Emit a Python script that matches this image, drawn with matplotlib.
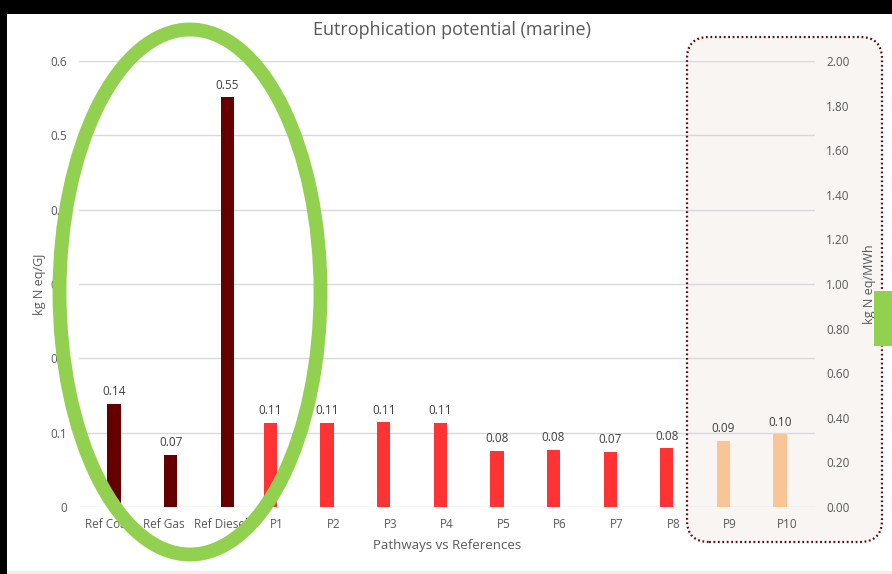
import matplotlib
matplotlib.use("Agg")
import matplotlib.pyplot as plt
from matplotlib.patches import Rectangle, Ellipse, FancyBboxPatch
from matplotlib.ticker import FixedLocator, FuncFormatter
import numpy as np

plt.rcParams['font.family'] = ['Open Sans', 'DejaVu Sans']

# Data
ref_labels = ["Ref Coal", "Ref Gas", "Ref Diesel"]
ref_values = [0.139, 0.070, 0.551]
path_labels = ["P1", "P2", "P3", "P4", "P5", "P6", "P7", "P8"]
path_values = [0.113, 0.113, 0.114, 0.113, 0.076, 0.077, 0.074, 0.079]
alt_labels = ["P9", "P10"]
alt_values = [0.089, 0.098]
categories = ref_labels + path_labels + alt_labels

left_ticks = [0, 0.1, 0.2, 0.3, 0.4, 0.5, 0.6]
right_ticks = [0.0, 0.2, 0.4, 0.6, 0.8, 1.0, 1.2, 1.4, 1.6, 1.8, 2.0]

c_ref = "#650000"
c_path = "#FF3333"
c_alt = "#F8C597"
grey = "#595959"
green = "#92D050"

W, H, DPI = 892, 574, 100
fig = plt.figure(figsize=(W / DPI, H / DPI), dpi=DPI, facecolor="black")

# white canvas inside the dark frame
fig.patches.append(Rectangle((7 / W, 3 / H), 1 - 7 / W, (H - 14 - 3) / H,
                             transform=fig.transFigure, facecolor="white",
                             edgecolor="none", zorder=-3))
fig.patches.append(Rectangle((7 / W, 0), 1 - 7 / W, 3 / H,
                             transform=fig.transFigure, facecolor="#EFEFEF",
                             edgecolor="none", zorder=-3))

# shaded highlight box behind P9/P10
box_kw = dict(boxstyle="round,pad=0,rounding_size=0.22", transform=fig.dpi_scale_trans)
x0, x1 = 687 / DPI, 882 / DPI
y0, y1 = (H - 542) / DPI, (H - 37) / DPI
fig.patches.append(FancyBboxPatch((x0, y0), x1 - x0, y1 - y0, facecolor="#F8F5F2",
                                  edgecolor="none", zorder=-2, **box_kw))
fig.patches.append(FancyBboxPatch((x0, y0), x1 - x0, y1 - y0, facecolor="none",
                                  edgecolor="#5C0A14", linewidth=1.6,
                                  linestyle=(0, (0.8, 1.2)), zorder=3, **box_kw))

ax = fig.add_axes([79 / W, (H - 507) / H, (815 - 79) / W, (507 - 61) / H])
ax.set_facecolor("none")

x = np.arange(len(categories))
bw = 0.235
off = 0.118
xr = x[:len(ref_labels)]
xp = x[len(ref_labels):len(ref_labels) + len(path_labels)]
xa = x[len(ref_labels) + len(path_labels):]

bars = []
bars.append((ax.bar(xr + off, ref_values, bw, color=c_ref, zorder=3), ref_values))
bars.append((ax.bar(xp - off, path_values, bw, color=c_path, zorder=3), path_values))
bars.append((ax.bar(xa - off, alt_values, bw, color=c_alt, zorder=3), alt_values))

for cont, vals in bars:
    for rect, v in zip(cont, vals):
        ax.annotate(f"{v:.2f}", (rect.get_x() + rect.get_width() / 2, v),
                    xytext=(0, 4), textcoords="offset points", ha="center",
                    va="bottom", fontsize=8.5, color="#404040", zorder=4)

ax.set_xlim(-0.5, len(categories) - 0.5)
ax.set_ylim(0, 0.6)
ax.yaxis.set_major_locator(FixedLocator(left_ticks))
ax.yaxis.set_major_formatter(FuncFormatter(lambda v, p: f"{v:g}"))
ax.set_xticks(x)
ax.set_xticklabels(categories)
ax.grid(axis="y", color="#D9D9D9", linewidth=1, zorder=0)
ax.set_axisbelow(True)
for s in ax.spines.values():
    s.set_visible(False)
ax.tick_params(axis="both", length=0, labelsize=8.5, labelcolor=grey)
ax.tick_params(axis="x", pad=8)
ax.tick_params(axis="y", pad=8.5)
ax.set_xlabel("Pathways vs References", fontsize=9.5, color=grey, labelpad=6)
ax.set_ylabel("kg N eq/GJ", fontsize=9, color=grey, labelpad=3)

ax2 = ax.twinx()
ax2.set_facecolor("none")
ax2.set_ylim(0, 2.0)
ax2.yaxis.set_major_locator(FixedLocator(right_ticks))
ax2.yaxis.set_major_formatter(FuncFormatter(lambda v, p: f"{v:.2f}"))
for s in ax2.spines.values():
    s.set_visible(False)
ax2.tick_params(axis="y", length=0, labelsize=8.5, labelcolor=grey, pad=8)
ax2.set_ylabel("kg N eq/MWh", fontsize=9, color=grey, labelpad=10)

fig.text(452 / W, (H - 30) / H, "Eutrophication potential (marine)", ha="center",
         va="center", fontsize=13, color=grey)

# green annotation marks
fig.patches.append(Ellipse((190 / DPI, (H - 292) / DPI), 261 / DPI, 525 / DPI,
                           transform=fig.dpi_scale_trans, facecolor="none",
                           edgecolor=green, linewidth=10, zorder=5))
fig.patches.append(Rectangle((874 / W, (H - 346) / H), 18 / W, 55 / H,
                             transform=fig.transFigure, facecolor=green,
                             edgecolor="none", zorder=5))

fig.savefig("out.png", dpi=DPI, facecolor=fig.get_facecolor())
